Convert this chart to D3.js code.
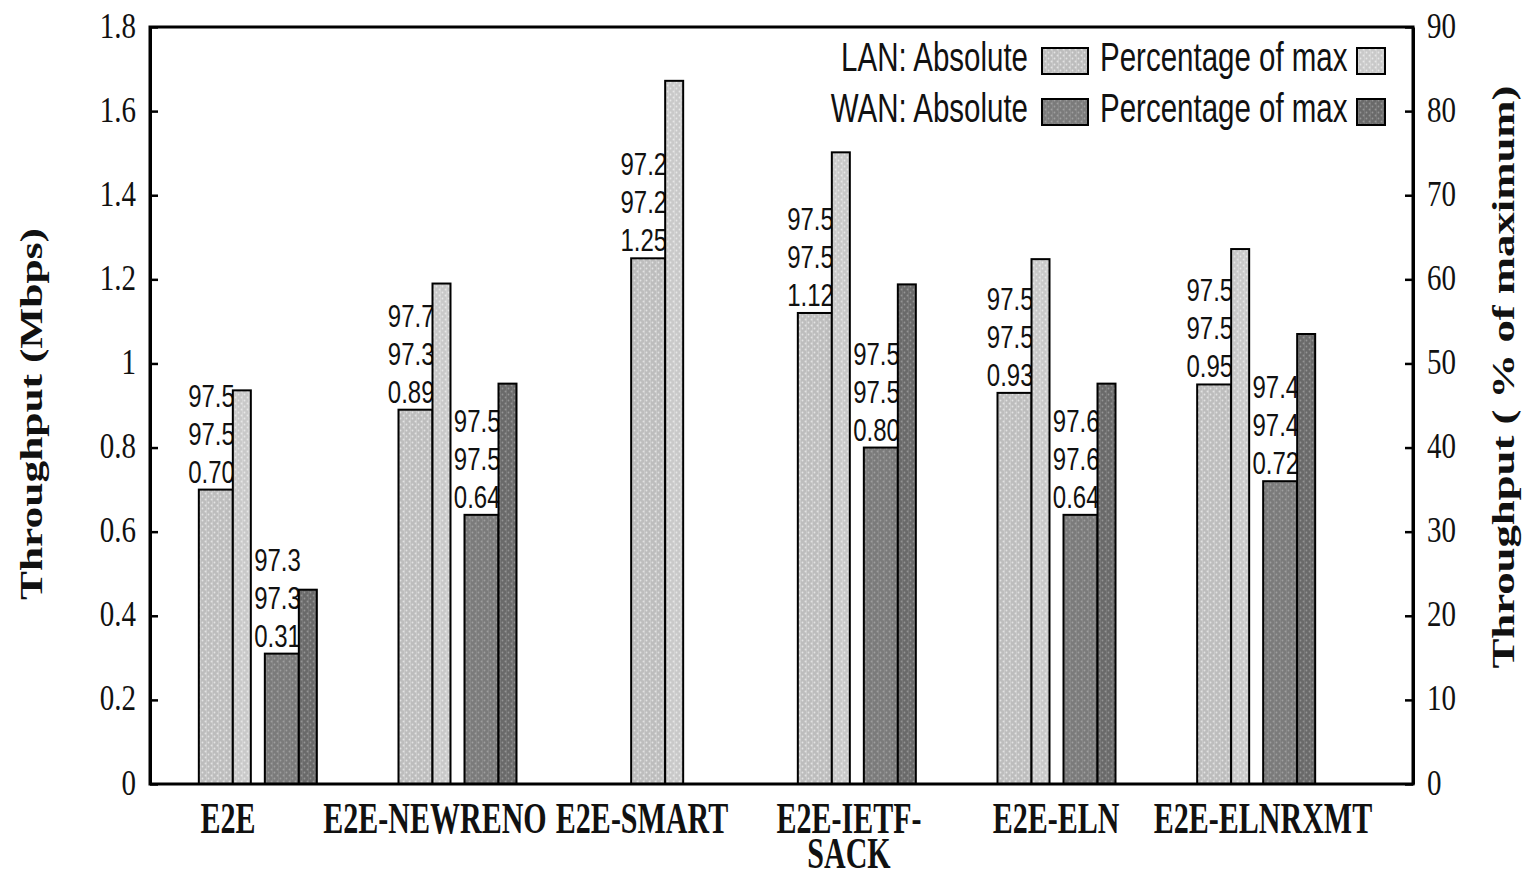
<!DOCTYPE html>
<html><head><meta charset="utf-8">
<script src="https://cdn.jsdelivr.net/npm/d3@7"></script>
<style>body{margin:0;background:#fff}</style>
</head><body>
<svg id="c" width="1522" height="878"></svg>
<script>
const categories = ["E2E","E2E-NEWRENO","E2E-SMART","E2E-IETF-SACK","E2E-ELN","E2E-ELNRXMT"];
const catLines = [["E2E"],["E2E-NEWRENO"],["E2E-SMART"],["E2E-IETF-","SACK"],["E2E-ELN"],["E2E-ELNRXMT"]];
const lanAbs = [0.70,0.89,1.25,1.12,0.93,0.95];
const lanPct = [46.8,59.5,83.6,75.1,62.4,63.6];
const wanAbs = [0.31,0.64,null,0.80,0.64,0.72];
const wanPct = [23.1,47.6,null,59.4,47.6,53.5];
const lanLblTop = ["97.5","97.7","97.2","97.5","97.5","97.5"];
const lanLblMid = ["97.5","97.3","97.2","97.5","97.5","97.5"];
const wanLblTop = ["97.3","97.5",null,"97.5","97.6","97.4"];
const wanLblMid = ["97.3","97.5",null,"97.5","97.6","97.4"];
const leftTicks = [0,0.2,0.4,0.6,0.8,1,1.2,1.4,1.6,1.8];
const rightTicks = [0,10,20,30,40,50,60,70,80,90];

const svg = d3.select("#c");
const L=150, R=1413, T=27, B=784;
const SY=1.33;
const serif="'Liberation Serif','Times New Roman',serif";
const sans="'Liberation Sans',Arial,sans-serif";

const defs = svg.append("defs");
function pat(id, base, dot){
  const p = defs.append("pattern").attr("id",id).attr("patternUnits","userSpaceOnUse").attr("width",6).attr("height",6);
  p.append("rect").attr("width",6).attr("height",6).attr("fill",base);
  p.append("rect").attr("x",2).attr("y",0).attr("width",1).attr("height",6).attr("fill",dot).attr("opacity",0.25);
  p.append("circle").attr("cx",1.5).attr("cy",1.5).attr("r",0.9).attr("fill",dot).attr("opacity",0.8);
  p.append("circle").attr("cx",4.5).attr("cy",4.5).attr("r",0.9).attr("fill",dot).attr("opacity",0.8);
}
pat("lanA","#bdbdbd","#ececec");
pat("lanP","#c9c9c9","#f0f0f0");
pat("wanA","#7b7b7b","#a8a8a8");
pat("wanP","#6a6a6a","#a0a0a0");

const x = d3.scaleBand().domain(categories).range([158,1356]).padding(0);
const xLab = d3.scalePoint().domain(categories).range([228,1263]);
const yL = d3.scaleLinear().domain([0,1.8]).range([B,T]);
const yR = d3.scaleLinear().domain([0,90]).range([B,T]);
const cx = c => x(c)+x.bandwidth()/2;
const wA=34, wP=18, gap=14;

const g = svg.append("g");
const fmt = d3.format(".2f");

function drawPair(i, absV, pctV, fa, fp, start, top, mid){
  const x0 = start;
  g.append("rect").attr("x",x0).attr("y",yL(absV)).attr("width",wA).attr("height",B-yL(absV))
    .attr("fill",`url(#${fa})`).attr("stroke","#000").attr("stroke-width",2);
  const lbls=[fmt(absV), mid, top];
  lbls.forEach((t,k)=>{
    const by = yL(absV) - 7 - k*38;
    g.append("text").attr("transform",`translate(${x0+wA+2},${by}) scale(1,${SY})`)
      .attr("text-anchor","end").attr("font-family",sans).attr("font-size",24).attr("fill","#111").text(t);
  });
  g.append("rect").attr("x",x0+wA).attr("y",yR(pctV)).attr("width",wP).attr("height",B-yR(pctV))
    .attr("fill",`url(#${fp})`).attr("stroke","#000").attr("stroke-width",2);
}

categories.forEach((c,i)=>{
  const center = cx(c);
  if (wanAbs[i]==null){
    const s = center-(wA+wP)/2;
    drawPair(i, lanAbs[i], lanPct[i], "lanA","lanP", s, lanLblTop[i], lanLblMid[i]);
  } else {
    const tot = 2*(wA+wP)+gap;
    const s = center-tot/2;
    drawPair(i, lanAbs[i], lanPct[i], "lanA","lanP", s, lanLblTop[i], lanLblMid[i]);
    drawPair(i, wanAbs[i], wanPct[i], "wanA","wanP", s+wA+wP+gap, wanLblTop[i], wanLblMid[i]);
  }
});

// frame
svg.append("rect").attr("x",L).attr("y",T).attr("width",R-L).attr("height",B-T)
  .attr("fill","none").attr("stroke","#000").attr("stroke-width",3);

// axes
const axL = svg.append("g").attr("transform",`translate(${L},0)`)
  .call(d3.axisLeft(yL).tickValues(leftTicks).tickSizeInner(-8).tickSizeOuter(0).tickPadding(14).tickFormat(d=>d3.format("")(d)));
const axR = svg.append("g").attr("transform",`translate(${R},0)`)
  .call(d3.axisRight(yR).tickValues(rightTicks).tickSizeInner(-8).tickSizeOuter(0).tickPadding(14));
[axL,axR].forEach(a=>{
  a.select(".domain").attr("stroke-width",3);
  a.selectAll(".tick line").attr("stroke-width",2.5);
  a.selectAll(".tick text").attr("font-family",serif).attr("font-size",29).attr("fill","#111")
    .attr("dy",null).attr("y",0)
    .each(function(){
      const t=d3.select(this); const xx=+t.attr("x");
      t.attr("x",0).attr("transform",`translate(${xx},${10}) scale(1,1.25)`);
    });
});
axR.selectAll(".tick text").attr("text-anchor","start");

// x labels (one text element per category, lines as tspans)
categories.forEach((c,i)=>{
  const t = svg.append("text").attr("transform",`translate(${xLab(c)},833) scale(1,1.45)`)
    .attr("text-anchor","middle").attr("font-family",serif).attr("font-weight","bold")
    .attr("font-size",30).attr("fill","#111");
  catLines[i].forEach((ln,k)=>{
    t.append("tspan").attr("x",0).attr("y",k*35/1.45).text(ln);
  });
});

// axis titles
svg.append("text").attr("transform","translate(42,414) rotate(-90)").attr("text-anchor","middle")
  .attr("font-family",serif).attr("font-weight","bold").attr("font-size",31)
  .attr("textLength",372).attr("lengthAdjust","spacingAndGlyphs").attr("fill","#111").text("Throughput (Mbps)");
svg.append("text").attr("transform","translate(1514,377) rotate(-90)").attr("text-anchor","middle")
  .attr("font-family",serif).attr("font-weight","bold").attr("font-size",31)
  .attr("textLength",583).attr("lengthAdjust","spacingAndGlyphs").attr("fill","#111").text("Throughput ( % of maximum)");

// legend
const legRows = [
  {label:"LAN: Absolute", fa:"lanA", fp:"lanP", y:61},
  {label:"WAN: Absolute", fa:"wanA", fp:"wanP", y:112}
];
legRows.forEach(r=>{
  svg.append("text").attr("transform",`translate(1028,${r.y+10}) scale(1,1.35)`).attr("text-anchor","end")
    .attr("font-family",sans).attr("font-size",29.5).attr("fill","#111").text(r.label);
  svg.append("rect").attr("x",1042).attr("y",r.y-13).attr("width",46).attr("height",26)
    .attr("fill",`url(#${r.fa})`).attr("stroke","#000").attr("stroke-width",2);
  svg.append("text").attr("transform",`translate(1100,${r.y+10}) scale(1,1.35)`).attr("text-anchor","start")
    .attr("font-family",sans).attr("font-size",29.5).attr("fill","#111").text("Percentage of max");
  svg.append("rect").attr("x",1357).attr("y",r.y-13).attr("width",28).attr("height",26)
    .attr("fill",`url(#${r.fp})`).attr("stroke","#000").attr("stroke-width",2);
});
</script>
</body></html>
